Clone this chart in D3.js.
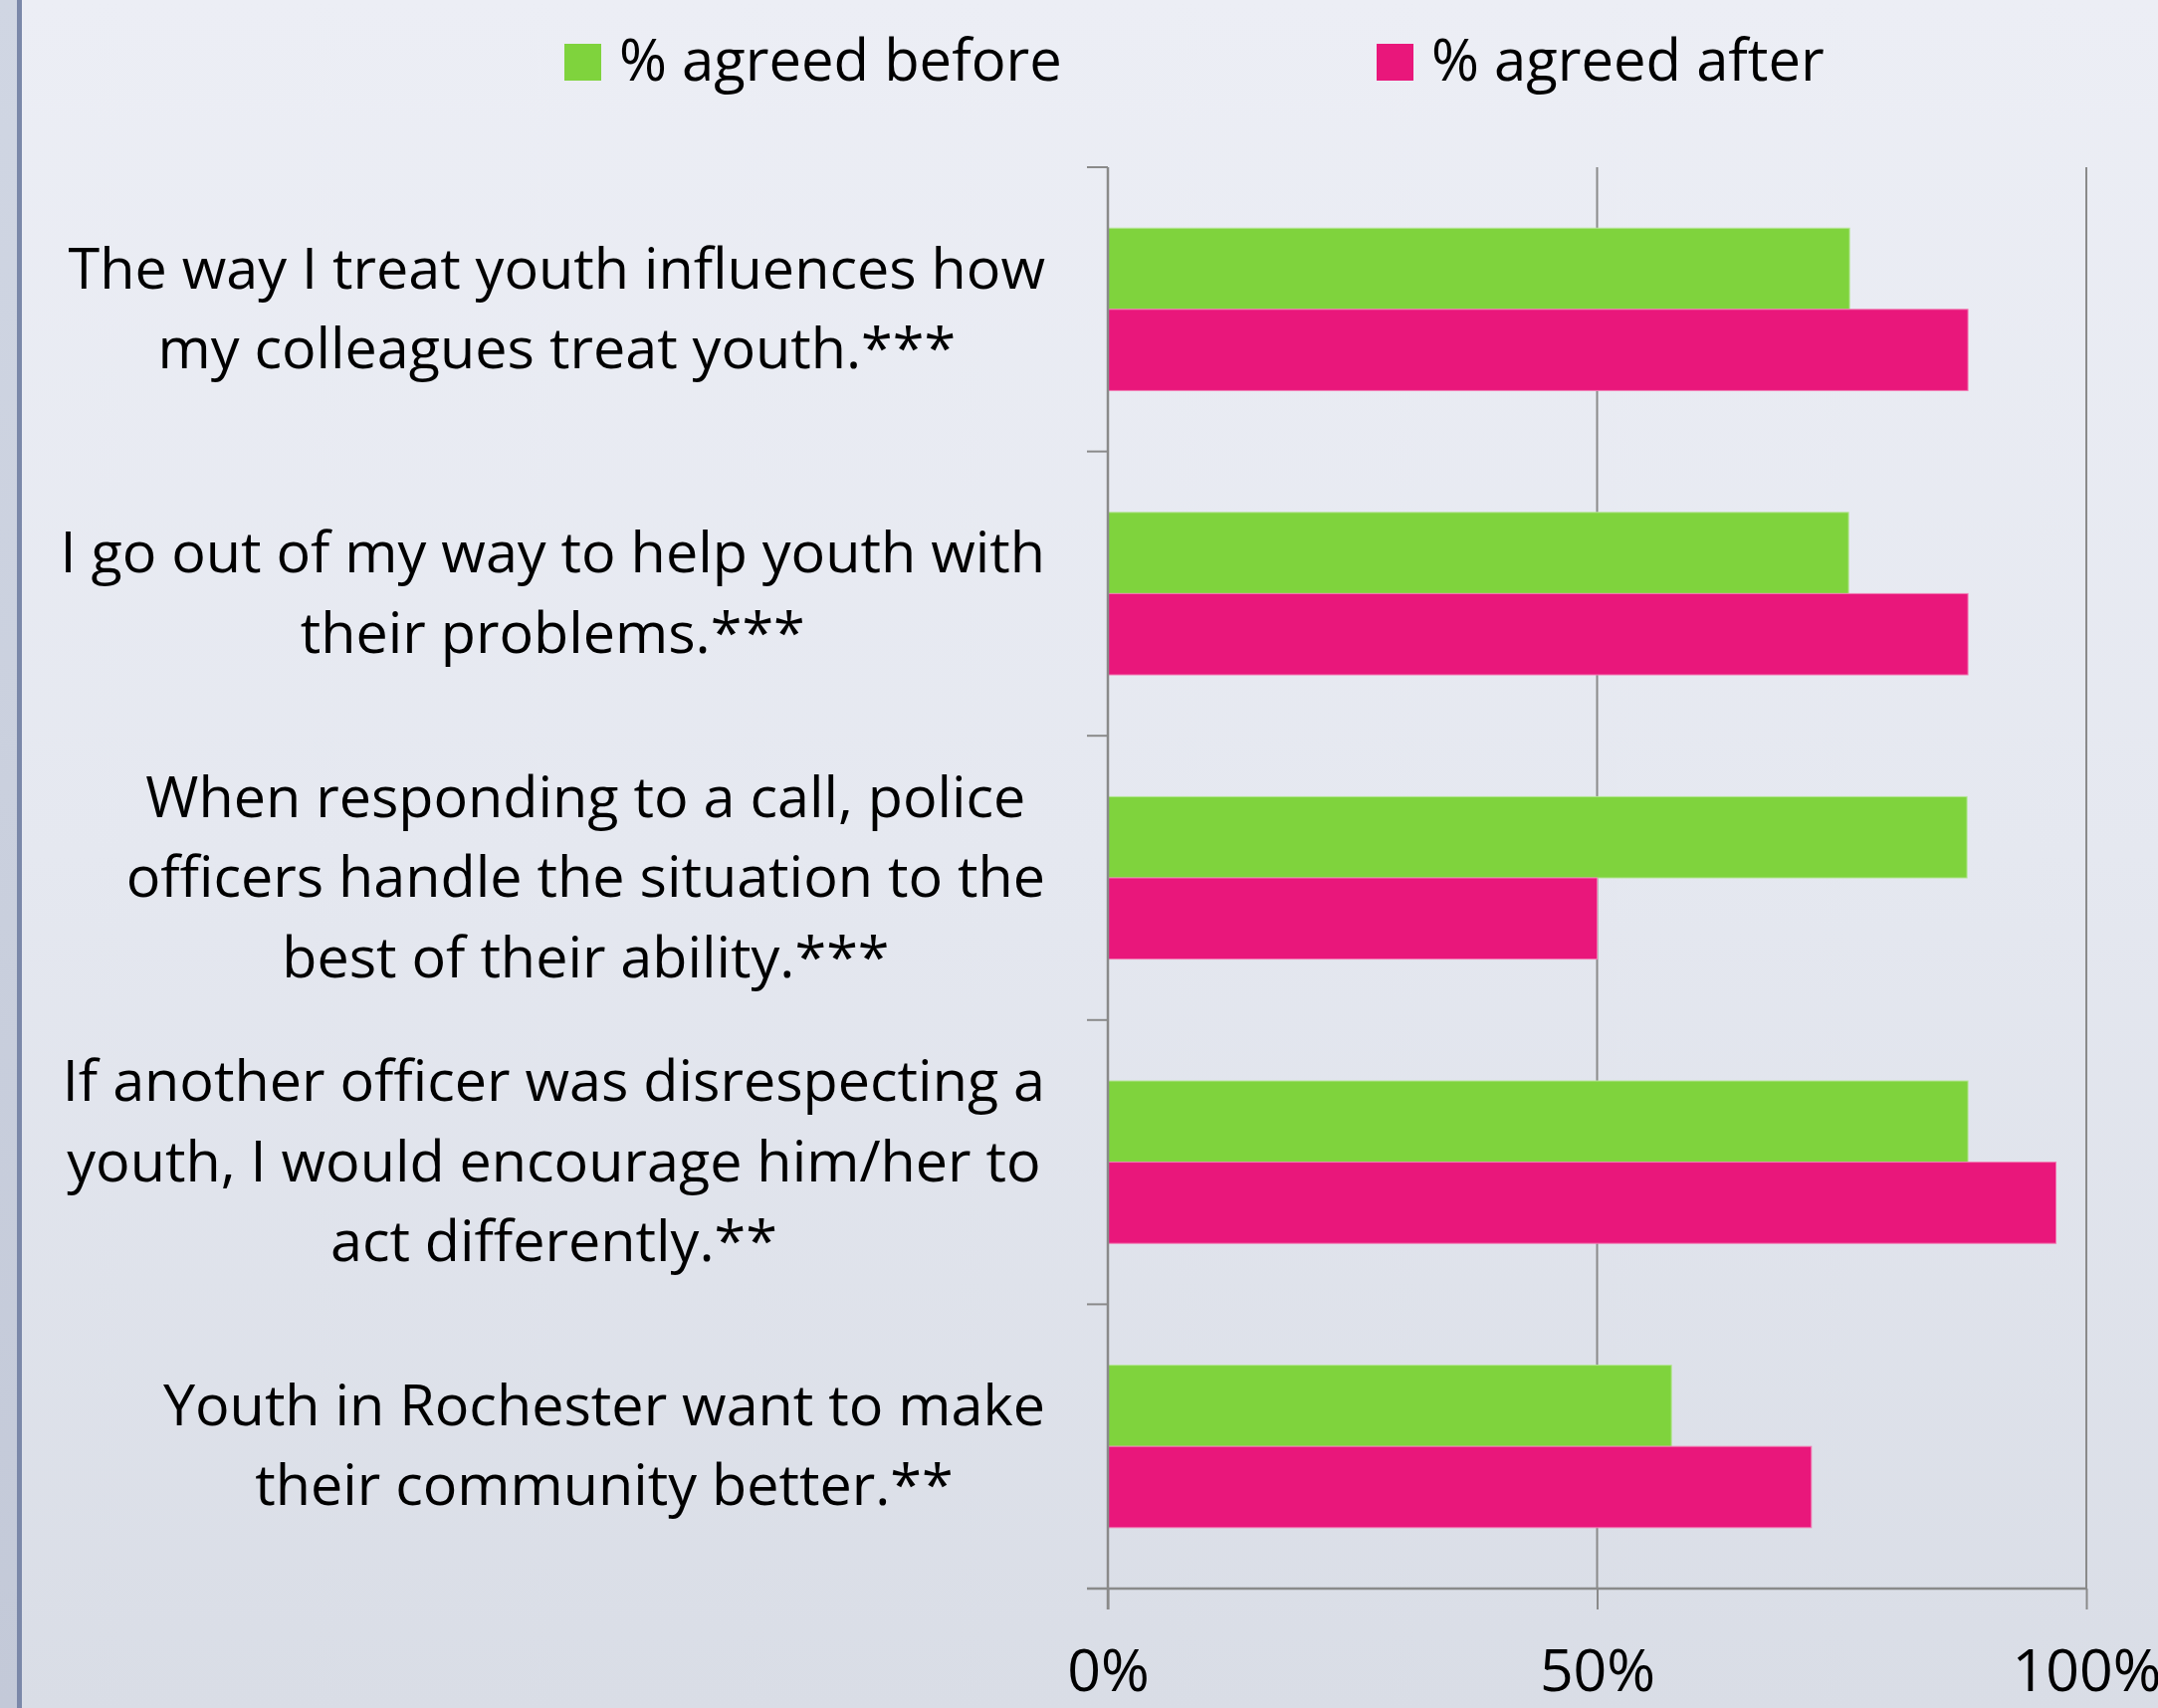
<!DOCTYPE html>
<html>
<head>
<meta charset="utf-8">
<script src="https://cdn.jsdelivr.net/npm/d3@7"></script>
<style>
  html, body { margin: 0; padding: 0; overflow: hidden; }
  svg { display: block; }
  text { font-family: "Open Sans", Lato, sans-serif; fill: #000; }
</style>
</head>
<body>
<script>
// ---- Data ----
const categories = [
  "The way I treat youth influences how\nmy colleagues treat youth.***",
  "I go out of my way to help youth with\ntheir problems.***",
  "When responding to a call, police\nofficers handle the situation to the\nbest of their ability.***",
  "If another officer was disrespecting a\nyouth, I would encourage him/her to\nact differently.**",
  "Youth in Rochester want to make\ntheir community better.**"
];
const seriesNames = ["% agreed before", "% agreed after"];
const before = [75.8, 75.7, 87.8, 87.9, 57.6];
const after  = [87.9, 87.9, 50.0, 96.9, 71.9];
const tickValues = [0, 50, 100];
const tickLabels = ["0%", "50%", "100%"];
const colors = ["#7fd33d", "#e9177b"];
const strokeColors = ["#b5e595", "#f17db4"];

// ---- Layout ----
const W = 2168, H = 1716;
const plot = { left: 1113, right: 2096, top: 168, bottom: 1596 };

const svg = d3.select("body").append("svg").attr("width", W).attr("height", H);

// background
const defs = svg.append("defs");
const grad = defs.append("linearGradient").attr("id", "bg").attr("x1", 0).attr("y1", 0).attr("x2", 0).attr("y2", 1);
grad.append("stop").attr("offset", "0%").attr("stop-color", "#eceef5");
grad.append("stop").attr("offset", "50%").attr("stop-color", "#e5e8f0");
grad.append("stop").attr("offset", "100%").attr("stop-color", "#d9dde6");
svg.append("rect").attr("width", W).attr("height", H).attr("fill", "url(#bg)");
const grad2 = defs.append("linearGradient").attr("id", "strip").attr("x1", 0).attr("y1", 0).attr("x2", 0).attr("y2", 1);
grad2.append("stop").attr("offset", "0%").attr("stop-color", "#d0d6e3");
grad2.append("stop").attr("offset", "100%").attr("stop-color", "#c3c9d8");
svg.append("rect").attr("x", 0).attr("y", 0).attr("width", 17).attr("height", H).attr("fill", "url(#strip)");
svg.append("rect").attr("x", 17).attr("y", 0).attr("width", 5).attr("height", H).attr("fill", "#7b88a9");

// scales
const x = d3.scaleLinear().domain([0, 100]).range([plot.left, plot.right]);
const y = d3.scaleBand().domain(d3.range(categories.length)).range([plot.top, plot.bottom]).paddingInner(0).paddingOuter(0);
const ySub = d3.scaleBand().domain([0, 1]).range([0, y.bandwidth()]).paddingInner(0).paddingOuter(0.75);

const axisColor = "#8a8a8a";

// x axis ticks + labels
const xAxis = d3.axisBottom(x).tickValues(tickValues).tickFormat((d, i) => tickLabels[i]).tickSize(21).tickPadding(40);
const gx = svg.append("g").attr("transform", `translate(0,${plot.bottom})`).call(xAxis);
gx.select(".domain").remove();
gx.selectAll(".tick line").attr("stroke", axisColor).attr("stroke-width", 2);
gx.selectAll(".tick text").attr("font-size", 59).attr("font-family", "Lato, sans-serif").attr("fill", "#000").attr("dy", "0.71em");

// gridlines
svg.append("g").selectAll("line").data(tickValues.filter(v => v > 0)).join("line")
  .attr("x1", d => x(d)).attr("x2", d => x(d))
  .attr("y1", plot.top).attr("y2", plot.bottom)
  .attr("stroke", axisColor).attr("stroke-width", 2);

// bars
const seriesData = [before, after];
const groups = svg.append("g").selectAll("g").data(seriesData).join("g")
  .attr("fill", (d, i) => colors[i]).attr("stroke", (d, i) => strokeColors[i]);
groups.each(function(vals, si) {
  d3.select(this).selectAll("rect").data(vals).join("rect")
    .attr("x", x(0))
    .attr("y", (v, ci) => y(ci) + ySub(si))
    .attr("width", v => x(v) - x(0))
    .attr("height", ySub.bandwidth())
    .attr("stroke-width", 1);
});

// y axis with category ticks
const yEdges = d3.range(categories.length + 1).map(i => plot.top + i * y.step());
svg.append("line").attr("x1", plot.left).attr("x2", plot.left).attr("y1", plot.top).attr("y2", plot.bottom + 21)
  .attr("stroke", axisColor).attr("stroke-width", 2.5);
svg.append("g").selectAll("line").data(yEdges).join("line")
  .attr("x1", plot.left - 21).attr("x2", plot.left).attr("y1", d => d).attr("y2", d => d)
  .attr("stroke", axisColor).attr("stroke-width", 2);
svg.append("line").attr("x1", plot.left - 21).attr("x2", plot.right).attr("y1", plot.bottom).attr("y2", plot.bottom)
  .attr("stroke", axisColor).attr("stroke-width", 2.5);

// category labels
const labelRight = 1050, lineH = 80.5, labelSize = 57.5;
categories.forEach((cat, ci) => {
  const lines = cat.split("\n");
  const cy = y(ci) + y.bandwidth() / 2;
  const g = svg.append("g");
  const texts = g.selectAll("text").data(lines).join("text")
    .attr("font-size", labelSize)
    .attr("text-anchor", "middle")
    .attr("y", (d, i) => cy + (i - (lines.length - 1) / 2) * lineH + 19)
    .text(d => d);
  let maxW = 0;
  texts.each(function() { maxW = Math.max(maxW, this.getComputedTextLength()); });
  texts.attr("x", labelRight - maxW / 2);
});

// legend
const legendX = [567, 1383];
const lg = svg.append("g").selectAll("g").data(seriesNames).join("g")
  .attr("transform", (d, i) => `translate(${legendX[i]},44)`);
lg.append("rect").attr("width", 37).attr("height", 37).attr("fill", (d, i) => colors[i]);
lg.append("text").attr("x", 55).attr("y", 37).attr("font-size", 58).text(d => d);
</script>
</body>
</html>
